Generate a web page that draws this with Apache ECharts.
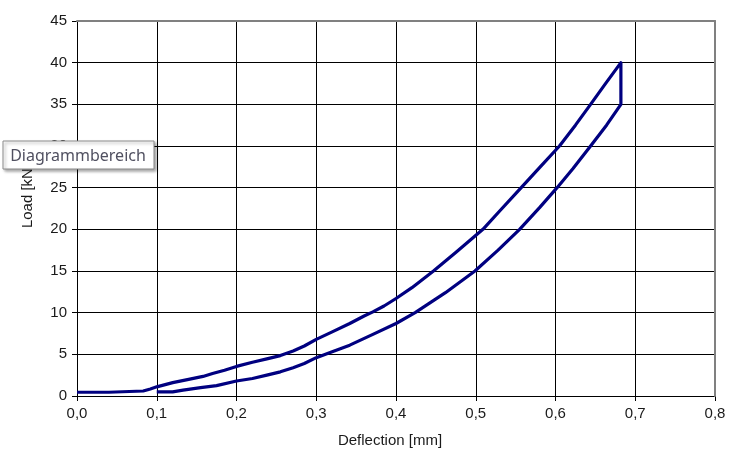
<!DOCTYPE html>
<html><head><meta charset="utf-8">
<script src="https://cdn.jsdelivr.net/npm/echarts@6/dist/echarts.min.js"></script>
<style>html,body{margin:0;padding:0;background:#fff}#c{width:744px;height:475px}</style>
</head><body><div id="c"></div>
<script>
// Loading branch (deflection mm, load kN)
const loadX = [0.000,0.040,0.042,0.083,0.092,0.100,0.120,0.140,0.158,0.170,0.185,0.200,0.220,0.238,0.255,0.271,0.285,0.300,0.320,0.342,0.360,0.371,0.385,0.400,0.420,0.447,0.476,0.509,0.530,0.557,0.580,0.605,0.625,0.644,0.662,0.682];
const loadY = [0.45,0.45,0.6,0.6,0.85,1.1,1.6,2.0,2.35,2.7,3.1,3.55,4.05,4.45,4.85,5.4,6.0,6.8,7.7,8.7,9.6,10.1,10.8,11.7,13.0,15.0,17.3,20.0,22.2,25.0,27.4,30.0,32.5,35.0,37.4,40.0];
// Unloading branch
const unloadX = [0.682,0.664,0.644,0.622,0.602,0.580,0.555,0.528,0.499,0.462,0.424,0.400,0.371,0.342,0.320,0.300,0.285,0.271,0.255,0.238,0.220,0.200,0.175,0.155,0.133,0.120,0.100];
const unloadY = [35.0,32.5,30.0,27.3,25.0,22.6,20.0,17.5,15.0,12.4,10.0,8.7,7.4,6.1,5.3,4.6,3.9,3.4,2.9,2.5,2.1,1.8,1.25,1.0,0.7,0.5,0.5];
const xTicks = [0,0.1,0.2,0.3,0.4,0.5,0.6,0.7,0.8];
const yTicks = [0,5,10,15,20,25,30,35,40,45];

const pts = [];
loadX.forEach((x,i)=>pts.push([x,loadY[i]]));
unloadX.forEach((x,i)=>pts.push([x,unloadY[i]]));

const FONT = 'Liberation Sans, Arial, sans-serif';
const chart = echarts.init(document.getElementById('c'), null, {renderer:'canvas'});
chart.setOption({
  animation:false,
  grid:{left:77,right:29,top:21,bottom:79},
  xAxis:[{
    type:'value',min:0,max:0.8,interval:0.1,
    axisLine:{show:true,lineStyle:{color:'#000',width:1}},
    axisTick:{show:true,length:5,lineStyle:{color:'#000'}},
    axisLabel:{margin:10,color:'#1a1a1a',fontSize:15,fontFamily:FONT,formatter:v=>v.toFixed(1).replace('.',',')},
    splitLine:{show:true,lineStyle:{color:'#000',width:1}}
  },{
    type:'value',min:0,max:0.8,interval:0.1,position:'top',
    axisLine:{show:true,onZero:false,lineStyle:{color:'#808080',width:2}},
    axisTick:{show:false},axisLabel:{show:false},splitLine:{show:false},z:5
  }],
  yAxis:[{
    type:'value',min:0,max:45,interval:5,
    axisLine:{show:true,lineStyle:{color:'#000',width:1}},
    axisTick:{show:true,length:5,lineStyle:{color:'#000'}},
    axisLabel:{margin:10,color:'#1a1a1a',fontSize:15,fontFamily:FONT},
    splitLine:{show:true,lineStyle:{color:'#000',width:1}}
  },{
    type:'value',min:0,max:45,interval:5,position:'right',
    axisLine:{show:true,onZero:false,lineStyle:{color:'#808080',width:2}},
    axisTick:{show:false},axisLabel:{show:false},splitLine:{show:false},z:5
  }],
  series:[{
    type:'line',data:pts,showSymbol:false,symbol:'none',
    lineStyle:{color:'#000080',width:3.2,join:'round'},z:10
  }],
  graphic:[
    {type:'text',x:28,y:196,rotation:Math.PI/2,
     style:{text:'Load [kN]',font:'15px '+FONT,fill:'#1a1a1a',align:'center',verticalAlign:'middle'},z:50},
    {type:'text',x:390,y:441,
     style:{text:'Deflection [mm]',font:'15px '+FONT,fill:'#1a1a1a',align:'center',verticalAlign:'middle'},z:50},
    {type:'rect',x:3,y:141,shape:{width:151,height:28},
     style:{fill:'#fff',stroke:'#8a8a8a',lineWidth:1,shadowBlur:3,shadowOffsetX:2,shadowOffsetY:2,shadowColor:'rgba(0,0,0,0.35)'},z:100},
    {type:'text',x:78,y:156,
     style:{text:'Diagrammbereich',font:'16px "Noto Sans", "Open Sans", sans-serif',fill:'#505060',align:'center',verticalAlign:'middle'},z:101}
  ]
});
</script></body></html>
